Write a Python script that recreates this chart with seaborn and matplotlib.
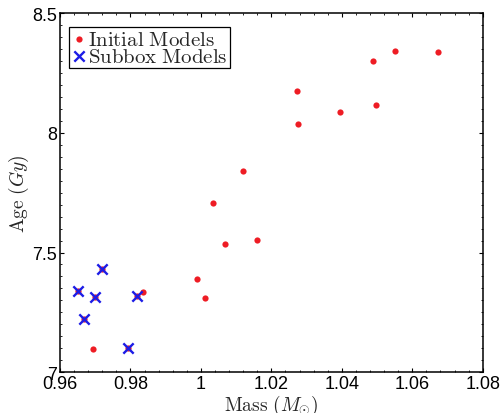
import matplotlib
matplotlib.use("Agg")
import matplotlib.pyplot as plt
import seaborn as sns
import pandas as pd
from matplotlib.ticker import MultipleLocator

initial_mass = [0.9652, 0.9669, 0.9699, 0.9718, 0.9792, 0.9818,
                0.9694, 0.9837, 0.9988, 1.0011, 1.0035, 1.0068, 1.0120,
                1.0160, 1.0272, 1.0277, 1.0395, 1.0489, 1.0497, 1.0551, 1.0672]
initial_age = [7.339, 7.222, 7.315, 7.431, 7.099, 7.318,
               7.096, 7.335, 7.388, 7.311, 7.707, 7.537, 7.841,
               7.552, 8.177, 8.038, 8.089, 8.300, 8.118, 8.342, 8.337]
subbox_mass = [0.9652, 0.9669, 0.9699, 0.9718, 0.9792, 0.9818]
subbox_age = [7.339, 7.222, 7.315, 7.431, 7.099, 7.318]
x_ticks = [0.96, 0.98, 1.00, 1.02, 1.04, 1.06, 1.08]
x_tick_labels = ["0.96", "0.98", "1", "1.02", "1.04", "1.06", "1.08"]
y_ticks = [7.0, 7.5, 8.0, 8.5]
y_tick_labels = ["7", "7.5", "8", "8.5"]

sns.set_theme(style="ticks")
plt.rcParams["font.family"] = ["Liberation Sans", "DejaVu Sans"]
plt.rcParams["mathtext.fontset"] = "cm"

df_init = pd.DataFrame({"mass": initial_mass, "age": initial_age})
df_sub = pd.DataFrame({"mass": subbox_mass, "age": subbox_age})

fig = plt.figure(figsize=(5.03, 4.14), dpi=100)
ax = fig.add_axes([0.1193, 0.099, 0.8403, 0.866])

red = "#ee1c24"
blue = "#1c1ce6"
sns.scatterplot(data=df_init, x="mass", y="age", ax=ax, color=red, s=20,
                marker="o", linewidth=0, label=r"$\mathrm{Initial\ Models}$", zorder=3)
sns.scatterplot(data=df_sub, x="mass", y="age", ax=ax, color=blue, s=55,
                marker="x", linewidth=1.7, label=r"$\mathrm{Subbox\ Models}$", zorder=4)

ax.set_xlim(0.96, 1.08)
ax.set_ylim(7.0, 8.5)
ax.set_xticks(x_ticks)
ax.set_xticklabels(x_tick_labels)
ax.set_yticks(y_ticks)
ax.set_yticklabels(y_tick_labels)
ax.xaxis.set_minor_locator(MultipleLocator(0.004))
ax.yaxis.set_minor_locator(MultipleLocator(0.05))
ax.tick_params(which="both", direction="in", top=True, right=True, colors="black",
               labelsize=13)
ax.tick_params(which="major", length=3, width=0.8)
ax.tick_params(which="minor", length=1.5, width=0.6)
ax.tick_params(axis="x", which="major", pad=2.5)
ax.tick_params(axis="y", which="major", pad=2)
for sp in ax.spines.values():
    sp.set_visible(True)
    sp.set_linewidth(1.1)
    sp.set_color("black")

ax.set_xlabel(r"$\mathrm{Mass}\ (M_{\odot})$", fontsize=14, labelpad=0)
ax.set_ylabel(r"$\mathrm{Age}\ (Gy)$", fontsize=14, labelpad=1)

leg = ax.legend(loc="upper left", bbox_to_anchor=(0.0213, 0.9615), fontsize=15,
                frameon=True, fancybox=False, edgecolor="black", framealpha=1,
                handlelength=0.7, handletextpad=0.1, borderpad=0.12,
                labelspacing=-0.1, borderaxespad=0.0)
leg.get_frame().set_linewidth(0.9)

fig.savefig("out.png", dpi=100)
